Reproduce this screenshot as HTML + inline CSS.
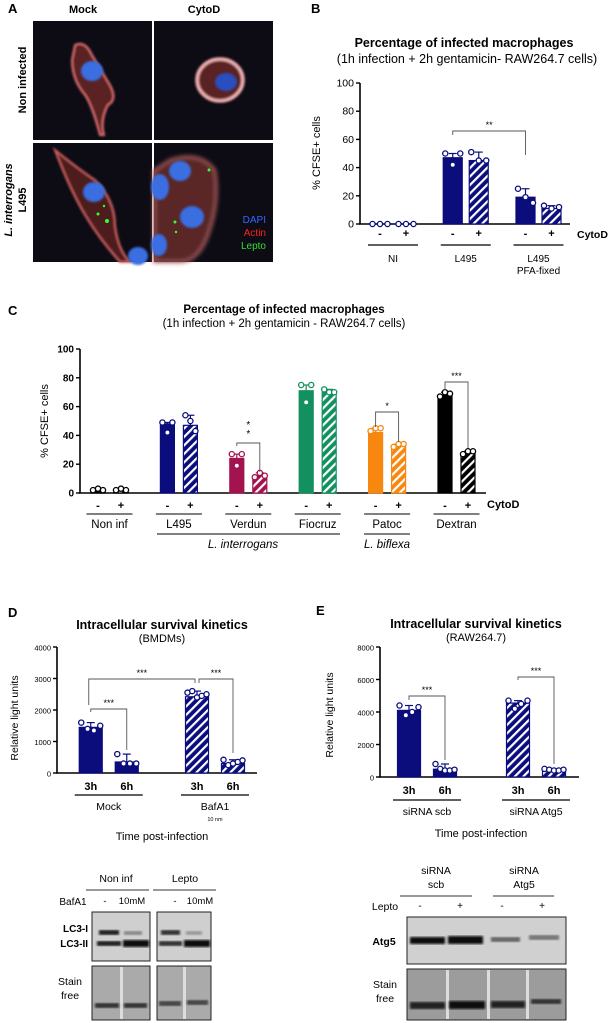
<!DOCTYPE html>
<html><head><meta charset="utf-8"><style>
html,body{margin:0;padding:0;background:#fff}
svg{display:block;font-family:"Liberation Sans",Arial,sans-serif}
</style></head><body>
<svg id="fig" width="613" height="1023" viewBox="0 0 613 1023" xmlns="http://www.w3.org/2000/svg">
<defs>
<filter id="blur1"><feGaussianBlur stdDeviation="1"/></filter>
<filter id="blur2"><feGaussianBlur stdDeviation="2"/></filter>
<filter id="blur3"><feGaussianBlur stdDeviation="3"/></filter>
</defs>

<!-- Panel A -->
<g>
<text x="8" y="13" font-size="13" font-weight="bold">A</text>
<text x="83" y="13" font-size="11" font-weight="bold" text-anchor="middle">Mock</text>
<text x="204" y="13" font-size="11" font-weight="bold" text-anchor="middle">CytoD</text>
<text transform="translate(26,80) rotate(-90)" font-size="11" font-weight="bold" text-anchor="middle">Non infected</text>
<text transform="translate(12,200) rotate(-90)" font-size="11" font-weight="bold" font-style="italic" text-anchor="middle">L. interrogans</text>
<text transform="translate(26,200) rotate(-90)" font-size="11" font-weight="bold" text-anchor="middle">L495</text>
<g>
<rect x="33" y="21" width="119" height="119" fill="#0d0b14"/>
<path d="M75,45 Q85,40 92,55 L110,85 Q118,100 108,105 Q100,120 104,135 L100,135 Q92,105 85,95 Q72,80 72,60 Z" fill="#5a2020" stroke="#e07070" stroke-width="2" filter="url(#blur1)"/>
<ellipse cx="92" cy="71" rx="11" ry="10" fill="#3a6ee0" filter="url(#blur1)"/>
</g>
<g>
<rect x="154" y="21" width="119" height="119" fill="#0d0b14"/>
<ellipse cx="220" cy="80" rx="23" ry="21" fill="#5a2222" stroke="#f0b0b0" stroke-width="3.5" filter="url(#blur1)"/>
<ellipse cx="226" cy="82" rx="11" ry="9" fill="#2a4ec0" filter="url(#blur1)"/>
</g>
<g>
<rect x="33" y="143" width="119" height="119" fill="#0d0b14"/>
<path d="M55,150 Q80,170 95,180 Q115,200 115,225 Q118,250 130,262 L120,262 Q100,240 85,215 Q70,190 55,150 Z" fill="#4e1c1c" stroke="#d06060" stroke-width="2" filter="url(#blur1)"/>
<ellipse cx="94" cy="192" rx="11" ry="10" fill="#3a6ee0" filter="url(#blur1)"/>
<ellipse cx="138" cy="256" rx="10" ry="9" fill="#3a6ee0" filter="url(#blur1)"/>
<circle cx="107" cy="221" r="2" fill="#3f3"/><circle cx="98" cy="214" r="1.5" fill="#3f3"/><circle cx="104" cy="206" r="1.2" fill="#3f3"/>
</g>
<g>
<rect x="154" y="143" width="119" height="119" fill="#0d0b14"/>
<path d="M170,160 Q200,150 215,170 Q220,200 210,230 Q200,262 180,262 L154,262 L154,170 Z" fill="#5a2525" stroke="#c06a6a" stroke-width="2" filter="url(#blur2)"/>
<ellipse cx="180" cy="171" rx="11" ry="10" fill="#3a6ee0" filter="url(#blur1)"/>
<ellipse cx="160" cy="187" rx="9" ry="13" fill="#3a6ee0" filter="url(#blur1)"/>
<ellipse cx="192" cy="217" rx="12" ry="11" fill="#3a6ee0" filter="url(#blur1)"/>
<ellipse cx="159" cy="245" rx="8" ry="11" fill="#3a6ee0" filter="url(#blur1)"/>
<circle cx="209" cy="170" r="1.5" fill="#3f3"/><circle cx="175" cy="222" r="1.5" fill="#3f3"/><circle cx="176" cy="232" r="1.2" fill="#3f3"/>
<text x="266" y="223" font-size="10" fill="#3366ff" text-anchor="end">DAPI</text>
<text x="266" y="236" font-size="10" fill="#ff2020" text-anchor="end">Actin</text>
<text x="266" y="249" font-size="10" fill="#33dd33" text-anchor="end">Lepto</text>
</g>
</g>

<!-- Panel B static text -->
<g>
<text x="311" y="13" font-size="13" font-weight="bold">B</text>
<text x="464" y="47" font-size="12.5" font-weight="bold" text-anchor="middle">Percentage of infected macrophages</text>
<text x="467" y="63" font-size="12.5" text-anchor="middle">(1h infection +  2h gentamicin-  RAW264.7 cells)</text>
<text transform="translate(320,153) rotate(-90)" font-size="11" text-anchor="middle">% CFSE+ cells</text>
<text x="577" y="238" font-size="10.5" font-weight="bold">CytoD</text>
</g>
<g id="chartB"></g>

<!-- Panel C -->
<g>
<text x="8" y="315" font-size="13" font-weight="bold">C</text>
<text x="284" y="313" font-size="11.5" font-weight="bold" text-anchor="middle">Percentage of infected macrophages</text>
<text x="284" y="327" font-size="11.5" text-anchor="middle">(1h infection + 2h gentamicin - RAW264.7 cells)</text>
<text transform="translate(48,421) rotate(-90)" font-size="11" text-anchor="middle">% CFSE+ cells</text>
<text x="487" y="508" font-size="11" font-weight="bold">CytoD</text>
<line x1="157" y1="534" x2="340" y2="534" stroke="#000" stroke-width="1"/>
<text x="243" y="548" font-size="11.5" font-style="italic" text-anchor="middle">L. interrogans</text>
<line x1="364" y1="534" x2="410" y2="534" stroke="#000" stroke-width="1"/>
<text x="387" y="548" font-size="11.5" font-style="italic" text-anchor="middle">L. biflexa</text>
</g>
<g id="chartC"></g>

<!-- Panel D -->
<g>
<text x="8" y="617" font-size="13" font-weight="bold">D</text>
<text x="162" y="629" font-size="12.5" font-weight="bold" text-anchor="middle">Intracellular survival kinetics</text>
<text x="162" y="642" font-size="11" text-anchor="middle">(BMDMs)</text>
<text transform="translate(18,718) rotate(-90)" font-size="10.5" text-anchor="middle">Relative light units</text>
<text x="162" y="840" font-size="11" text-anchor="middle">Time post-infection</text>
<text x="215" y="821" font-size="5.5" text-anchor="middle">10 nm</text>
</g>
<g id="chartD"></g>

<!-- Panel E -->
<g>
<text x="316" y="615" font-size="13" font-weight="bold">E</text>
<text x="476" y="628" font-size="12.5" font-weight="bold" text-anchor="middle">Intracellular survival kinetics</text>
<text x="476" y="641" font-size="11" text-anchor="middle">(RAW264.7)</text>
<text transform="translate(333,715) rotate(-90)" font-size="10.5" text-anchor="middle">Relative light units</text>
<text x="481" y="837" font-size="11" text-anchor="middle">Time post-infection</text>
</g>
<g id="chartE"></g>

<!-- Blot D -->
<g>
<text x="116" y="882" font-size="10.5" text-anchor="middle">Non inf</text>
<text x="185" y="882" font-size="10.5" text-anchor="middle">Lepto</text>
<line x1="86" y1="890" x2="149" y2="890" stroke="#333"/>
<line x1="153" y1="890" x2="216" y2="890" stroke="#333"/>
<text x="73" y="905" font-size="10" text-anchor="middle">BafA1</text>
<text x="105" y="904" font-size="9.5" text-anchor="middle">-</text>
<text x="132" y="904" font-size="9.5" text-anchor="middle">10mM</text>
<text x="175" y="904" font-size="9.5" text-anchor="middle">-</text>
<text x="200" y="904" font-size="9.5" text-anchor="middle">10mM</text>
<text x="88" y="932" font-size="10" font-weight="bold" text-anchor="end">LC3-I</text>
<text x="88" y="947" font-size="10" font-weight="bold" text-anchor="end">LC3-II</text>
<g>
<rect x="92" y="912" width="58" height="49" fill="#cfcfcf" stroke="#222"/>
<rect x="99" y="930" width="20" height="5" fill="#222" filter="url(#blur1)"/>
<rect x="124" y="931" width="18" height="4" fill="#888" filter="url(#blur1)"/>
<rect x="97" y="941" width="24" height="5" fill="#222" filter="url(#blur1)"/>
<rect x="123" y="940" width="26" height="7" fill="#111" filter="url(#blur1)"/>
</g>
<g>
<rect x="157" y="912" width="54" height="49" fill="#cfcfcf" stroke="#222"/>
<rect x="161" y="930" width="19" height="5" fill="#333" filter="url(#blur1)"/>
<rect x="186" y="931" width="16" height="4" fill="#999" filter="url(#blur1)"/>
<rect x="159" y="941" width="23" height="5" fill="#333" filter="url(#blur1)"/>
<rect x="184" y="940" width="26" height="7" fill="#111" filter="url(#blur1)"/>
</g>
<text x="70" y="985" font-size="10.5" text-anchor="middle">Stain</text>
<text x="70" y="999" font-size="10.5" text-anchor="middle">free</text>
<g>
<rect x="92" y="966" width="58" height="54" fill="#aaaaaa" stroke="#222"/>
<rect x="120" y="967" width="3" height="52" fill="#ddd"/>
<rect x="95" y="1003" width="24" height="5" fill="#333" filter="url(#blur1)"/>
<rect x="124" y="1003" width="23" height="5" fill="#333" filter="url(#blur1)"/>
</g>
<g>
<rect x="157" y="966" width="54" height="54" fill="#aaaaaa" stroke="#222"/>
<rect x="183" y="967" width="3" height="52" fill="#ddd"/>
<rect x="159" y="1001" width="22" height="5" fill="#444" filter="url(#blur1)"/>
<rect x="187" y="1000" width="21" height="5" fill="#444" filter="url(#blur1)"/>
</g>
</g>

<!-- Blot E -->
<g>
<text x="436" y="874" font-size="10.5" text-anchor="middle">siRNA</text>
<text x="436" y="888" font-size="10.5" text-anchor="middle">scb</text>
<text x="524" y="874" font-size="10.5" text-anchor="middle">siRNA</text>
<text x="524" y="888" font-size="10.5" text-anchor="middle">Atg5</text>
<line x1="400" y1="896" x2="472" y2="896" stroke="#333"/>
<line x1="493" y1="896" x2="554" y2="896" stroke="#333"/>
<text x="385" y="910" font-size="10.5" text-anchor="middle">Lepto</text>
<text x="420" y="909" font-size="10" text-anchor="middle">-</text>
<text x="460" y="909" font-size="10" text-anchor="middle">+</text>
<text x="502" y="909" font-size="10" text-anchor="middle">-</text>
<text x="542" y="909" font-size="10" text-anchor="middle">+</text>
<text x="384" y="945" font-size="10.5" font-weight="bold" text-anchor="middle">Atg5</text>
<g>
<rect x="407" y="917" width="159" height="47" fill="#d0d0d0" stroke="#222"/>
<rect x="410" y="937" width="35" height="7" fill="#111" filter="url(#blur1)"/>
<rect x="448" y="936" width="35" height="8" fill="#111" filter="url(#blur1)"/>
<rect x="491" y="937" width="29" height="5" fill="#666" filter="url(#blur1)"/>
<rect x="529" y="935" width="30" height="5" fill="#777" filter="url(#blur1)"/>
</g>
<text x="385" y="988" font-size="10.5" text-anchor="middle">Stain</text>
<text x="385" y="1002" font-size="10.5" text-anchor="middle">free</text>
<g>
<rect x="407" y="969" width="159" height="51" fill="#9c9c9c" stroke="#222"/>
<rect x="446" y="970" width="3" height="49" fill="#ddd"/>
<rect x="487" y="970" width="3" height="49" fill="#ddd"/>
<rect x="526" y="970" width="3" height="49" fill="#ddd"/>
<rect x="410" y="1002" width="35" height="7" fill="#222" filter="url(#blur1)"/>
<rect x="449" y="1001" width="36" height="8" fill="#111" filter="url(#blur1)"/>
<rect x="491" y="1001" width="34" height="7" fill="#222" filter="url(#blur1)"/>
<rect x="531" y="999" width="30" height="5" fill="#333" filter="url(#blur1)"/>
</g>
</g>
</svg>
<script>
// ---- Panel B data ----
const bGroups=['NI','L495','L495 PFA-fixed'];
const bMinus=[0,47,19];
const bPlus=[0,45,11];
const bMinusPts=[[0,0,0],[50,42,50],[25,19,15]];
const bPlusPts=[[0,0,0],[51,45,45],[13,11,12]];
const bTicks=[0,20,40,60,80,100];
// ---- Panel C data ----
const cGroups=['Non inf','L495','Verdun','Fiocruz','Patoc','Dextran'];
const cMinus=[2,48,24,71,42,68];
const cPlus=[2,47,12,70,33,28];
const cMinusPts=[[2,3,2],[49,42,49],[27,19,27],[75,63,75],[43,45,45],[67,70,69]];
const cPlusPts=[[2,3,2],[54,50,43],[11,14,12],[72,70,70],[32,34,34],[27,29,29]];
const cTicks=[0,20,40,60,80,100];
// ---- Panel D data ----
const dGroups=['Mock','BafA1'];
const d3h=[1450,2420];
const d6h=[350,300];
const d3hPts=[[1600,1400,1350,1500],[2550,2600,2400,2450,2500]];
const d6hPts=[[600,300,300,300],[420,250,300,350,400]];
const dTicks=[0,1000,2000,3000,4000];
// ---- Panel E data ----
const eGroups=['siRNA scb','siRNA Atg5'];
const e3h=[4100,4550];
const e6h=[480,420];
const e3hPts=[[4400,3800,4000,4300],[4700,4200,4500,4700]];
const e6hPts=[[800,500,400,400,450],[500,450,400,400,450]];
const eTicks=[0,2000,4000,6000,8000];

const NS='http://www.w3.org/2000/svg';
const defs=document.querySelector('#fig defs');
function mk(parent,tag,attrs){const e=document.createElementNS(NS,tag);for(const k in attrs)e.setAttribute(k,attrs[k]);parent.appendChild(e);return e;}
function hatch(id,color){
  const p=mk(defs,'pattern',{id:id,patternUnits:'userSpaceOnUse',width:6,height:6,patternTransform:'rotate(45)'});
  mk(p,'rect',{x:0,y:0,width:6,height:6,fill:color});
  mk(p,'rect',{x:0,y:0,width:2.2,height:6,fill:'#fff'});
}
const colsC=['#000','#0b0d7d','#a3134f','#13905f','#f7870f','#000'];
colsC.forEach((c,i)=>hatch('hc'+i,c));
hatch('hnavy','#0b0d7d');

function axis(g,x0,x1,yfn,ticks,fs,bold){
  mk(g,'line',{x1:x0,y1:yfn(ticks[ticks.length-1]),x2:x0,y2:yfn(0),stroke:'#000','stroke-width':1.6});
  mk(g,'line',{x1:x0-1,y1:yfn(0),x2:x1,y2:yfn(0),stroke:'#000','stroke-width':1.6});
  ticks.forEach(t=>{
    mk(g,'line',{x1:x0-4,y1:yfn(t),x2:x0,y2:yfn(t),stroke:'#000','stroke-width':1.4});
    const tx=mk(g,'text',{x:x0-6,y:yfn(t)+3.5,'font-size':fs,'text-anchor':'end','font-weight':bold?'bold':'normal'});
    tx.textContent=t;
    
    
  });
}
function bar(g,cx,w,v,pts,yfn,color,hatched,patId,name){
  const top=yfn(v),base=yfn(0);
  const maxv=Math.max(...pts);
  mk(g,'line',{x1:cx,y1:top,x2:cx,y2:yfn(maxv),stroke:color,'stroke-width':1.2});
  mk(g,'line',{x1:cx-4,y1:yfn(maxv),x2:cx+4,y2:yfn(maxv),stroke:color,'stroke-width':1.2});
  if(base-top>0.5){
    const r=mk(g,'rect',{x:cx-w/2,y:top,width:w,height:base-top,fill:hatched?'url(#'+patId+')':color,stroke:color,'stroke-width':1.2});
    
    
  }
  const n=pts.length;
  pts.forEach((p,i)=>{
    const dx=n>1?(i-(n-1)/2)*(w-4)/(n-1):0;
    const c=mk(g,'circle',{cx:cx+dx,cy:yfn(p),r:2.6,fill:'#fff',stroke:color,'stroke-width':1.3});
    
    
  });
}
function txt(g,x,y,s,fs,opts){const t=mk(g,'text',Object.assign({x:x,y:y,'font-size':fs,'text-anchor':'middle'},opts||{}));t.textContent=s;return t;}
function bracket(g,x1,x2,yTop,yL,yR,stars,vertical){
  mk(g,'path',{d:`M${x1},${yL} L${x1},${yTop} L${x2},${yTop} L${x2},${yR}`,fill:'none',stroke:'#555','stroke-width':0.9});
  if(vertical){
    for(let i=0;i<stars;i++){txt(g,(x1+x2)/2,yTop-6-i*9,'*',10);}
  } else {
    const s=txt(g,(x1+x2)/2,yTop-3,'*'.repeat(stars),9);
    
    
  }
}

// ---- Chart B ----
(function(){
  const g=document.getElementById('chartB');
  const y=v=>224-v*1.41;
  const cx=i=>393+i*72.75;
  axis(g,360,570,y,bTicks,10.5,false);
  bGroups.forEach((gr,i)=>{
    bar(g,cx(i)-13,19,bMinus[i],bMinusPts[i],y,'#0b0d7d',false,null,'bar-b-minus-'+i);
    bar(g,cx(i)+13,19,bPlus[i],bPlusPts[i],y,'#0b0d7d',true,'hnavy','bar-b-plus-'+i);
    txt(g,cx(i)-13,237,'-',11,{'font-weight':'bold'});
    txt(g,cx(i)+13,237,'+',11,{'font-weight':'bold'});
    mk(g,'line',{x1:cx(i)-25,y1:245,x2:cx(i)+25,y2:245,stroke:'#000','stroke-width':1.2});
    const parts=gr.split(' PFA');
    const l=txt(g,cx(i),262,parts[0],10);
    
    
    if(parts.length>1) txt(g,cx(i),274,'PFA'+parts[1],10);
  });
  bracket(g,cx(1)-13,cx(2)-13,131,135,155,2,false);
})();

// ---- Chart C ----
(function(){
  const g=document.getElementById('chartC');
  const y=v=>493-v*1.44;
  const cx=i=>109.5+i*69.4;
  axis(g,80,486,y,cTicks,10,true);
  cGroups.forEach((gr,i)=>{
    bar(g,cx(i)-11.5,14,cMinus[i],cMinusPts[i],y,colsC[i],false,null,'bar-c-minus-'+i);
    bar(g,cx(i)+11.5,14,cPlus[i],cPlusPts[i],y,colsC[i],true,'hc'+i,'bar-c-plus-'+i);
    txt(g,cx(i)-11.5,509,'-',11,{'font-weight':'bold'});
    txt(g,cx(i)+11.5,509,'+',11,{'font-weight':'bold'});
    mk(g,'line',{x1:cx(i)-23,y1:514,x2:cx(i)+23,y2:514,stroke:'#000','stroke-width':1});
    const l=txt(g,cx(i),528,gr,11.5);
    
    
  });
  bracket(g,cx(2)-11.5,cx(2)+11.5,443,446,472,2,true);
  bracket(g,cx(4)-11.5,cx(4)+11.5,412,427,442,1,false);
  bracket(g,cx(5)-11.5,cx(5)+11.5,382,390,448,3,false);
})();

// ---- Chart D ----
(function(){
  const g=document.getElementById('chartD');
  const y=v=>773-v*0.0315;
  const gc=[108.75,215];
  axis(g,57,257,y,dTicks,7.5,false);
  dGroups.forEach((gr,i)=>{
    bar(g,gc[i]-18,23,d3h[i],d3hPts[i],y,'#0b0d7d',i===1,'hnavy','bar-d-3h-'+i);
    bar(g,gc[i]+18,23,d6h[i],d6hPts[i],y,'#0b0d7d',i===1,'hnavy','bar-d-6h-'+i);
    txt(g,gc[i]-18,790,'3h',11,{'font-weight':'bold'});
    txt(g,gc[i]+18,790,'6h',11,{'font-weight':'bold'});
    mk(g,'line',{x1:gc[i]-34,y1:795,x2:gc[i]+34,y2:795,stroke:'#000','stroke-width':1.2});
    const l=txt(g,gc[i],810,gr,10.5);
    
    
  });
  bracket(g,gc[0]-18,gc[0]+18,709,712,750,3,false);
  bracket(g,gc[0]-20,gc[1]-20,679,705,683,3,false);
  bracket(g,gc[1]-16,gc[1]+18,679,683,753,3,false);
})();

// ---- Chart E ----
(function(){
  const g=document.getElementById('chartE');
  const y=v=>777-v*0.01625;
  const gc=[427,536];
  axis(g,380,579,y,eTicks,7.5,false);
  eGroups.forEach((gr,i)=>{
    bar(g,gc[i]-18,23,e3h[i],e3hPts[i],y,'#0b0d7d',i===1,'hnavy','bar-e-3h-'+i);
    bar(g,gc[i]+18,23,e6h[i],e6hPts[i],y,'#0b0d7d',i===1,'hnavy','bar-e-6h-'+i);
    txt(g,gc[i]-18,794,'3h',11,{'font-weight':'bold'});
    txt(g,gc[i]+18,794,'6h',11,{'font-weight':'bold'});
    mk(g,'line',{x1:gc[i]-34,y1:800,x2:gc[i]+34,y2:800,stroke:'#000','stroke-width':1.2});
    const l=txt(g,gc[i],815,gr,10.5);
    
    
  });
  bracket(g,gc[0]-18,gc[0]+18,696,700,760,3,false);
  bracket(g,gc[1]-18,gc[1]+18,677,680,764,3,false);
})();
</script>
</body></html>
